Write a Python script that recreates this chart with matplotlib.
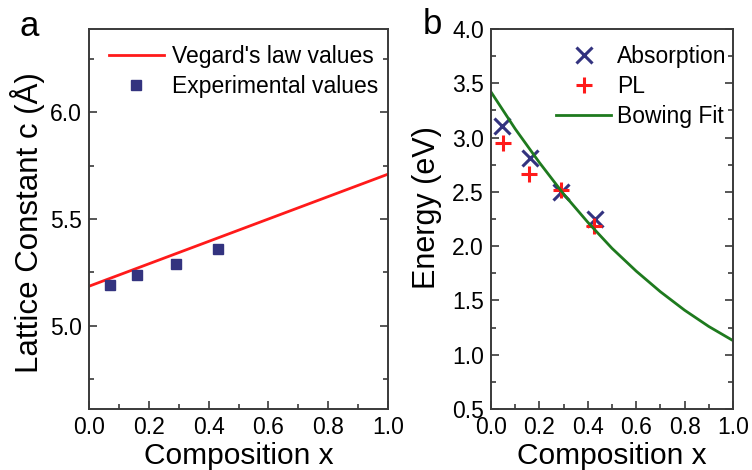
import matplotlib
matplotlib.use("Agg")
import matplotlib.pyplot as plt
from matplotlib.ticker import MultipleLocator

plt.rcParams['font.family'] = ['Liberation Sans', 'DejaVu Sans']

# ---- data: panel a ----
vegard_x = [0.0, 1.0]
vegard_c = [5.185, 5.71]
exp_x = [0.07, 0.16, 0.29, 0.43]
exp_c = [5.19, 5.24, 5.29, 5.36]

# ---- data: panel b ----
abs_x = [0.045, 0.16, 0.29, 0.43]
abs_E = [3.11, 2.81, 2.50, 2.25]
pl_x = [0.048, 0.157, 0.29, 0.426]
pl_E = [2.95, 2.66, 2.52, 2.19]
fit_x = [0.0, 0.1, 0.2, 0.3, 0.4, 0.5, 0.6, 0.7, 0.8, 0.9, 1.0]
fit_E = [3.42, 3.08, 2.77, 2.48, 2.22, 1.98, 1.77, 1.58, 1.41, 1.26, 1.13]

W, H = 752, 470
fig = plt.figure(figsize=(W / 100, H / 100), dpi=100)

axc = '#3a3a3a'
navy = '#33337f'
red = '#ff1a1a'
green = '#1e7a1e'

def style(ax):
    for s in ax.spines.values():
        s.set_color(axc)
        s.set_linewidth(1.4)
    ax.tick_params(which='both', direction='in', top=False, right=True,
                   color=axc, labelsize=16.5, width=1.2)
    ax.tick_params(which='major', length=6)
    ax.tick_params(axis='x', which='major', pad=5)
    ax.tick_params(axis='y', which='major', pad=5)
    ax.tick_params(which='minor', length=3.5)
    ax.xaxis.set_major_locator(MultipleLocator(0.2))
    ax.xaxis.set_minor_locator(MultipleLocator(0.1))
    ax.set_xlim(0, 1.0)
    ax.set_xlabel('Composition x', fontsize=21.5)
    ax.xaxis.set_label_coords(0.5, -0.087)

ax1 = fig.add_axes([89 / W, 1 - 409 / H, 299 / W, 380 / H])
style(ax1)
ax1.plot(vegard_x, vegard_c, color=red, lw=2, label="Vegard's law values")
ax1.plot(exp_x, exp_c, 's', color=navy, ms=7.5, ls='none', label='Experimental values')
ax1.set_ylim(4.61, 6.39)
ax1.yaxis.set_major_locator(MultipleLocator(0.5))
ax1.yaxis.set_minor_locator(MultipleLocator(0.25))
ax1.set_ylabel('Lattice Constant c (Å)', fontsize=22.5)
ax1.yaxis.set_label_coords(-0.148, 0.49)
ax1.legend(loc='upper right', frameon=False, fontsize=16.5, handlelength=2.4,
           handletextpad=0.35, borderaxespad=0.3, labelspacing=0.3,
           bbox_to_anchor=(1.02, 1.0))
fig.text(29 / W, 1 - 27 / H, 'a', fontsize=25, ha='center', va='center')

ax2 = fig.add_axes([491 / W, 1 - 409 / H, 242 / W, 380 / H])
style(ax2)
ax2.plot(abs_x, abs_E, 'x', color=navy, ms=11, mew=2.2, ls='none', label='Absorption')
ax2.plot(pl_x, pl_E, '+', color=red, ms=11, mew=2.2, ls='none', label='PL')
ax2.plot(fit_x, fit_E, color=green, lw=2, label='Bowing Fit')
ax2.set_ylim(0.5, 4.0)
ax2.yaxis.set_major_locator(MultipleLocator(0.5))
ax2.yaxis.set_minor_locator(MultipleLocator(0.25))
ax2.set_ylabel('Energy (eV)', fontsize=22)
ax2.yaxis.set_label_coords(-0.201, 0.53)
ax2.legend(loc='upper right', frameon=False, fontsize=16.5, handlelength=2.4,
           handletextpad=0.25, borderaxespad=0.3, labelspacing=0.3,
           bbox_to_anchor=(1.04, 1.0))
fig.text(432 / W, 1 - 25 / H, 'b', fontsize=25, ha='center', va='center')

fig.savefig('out.png', dpi=100)
